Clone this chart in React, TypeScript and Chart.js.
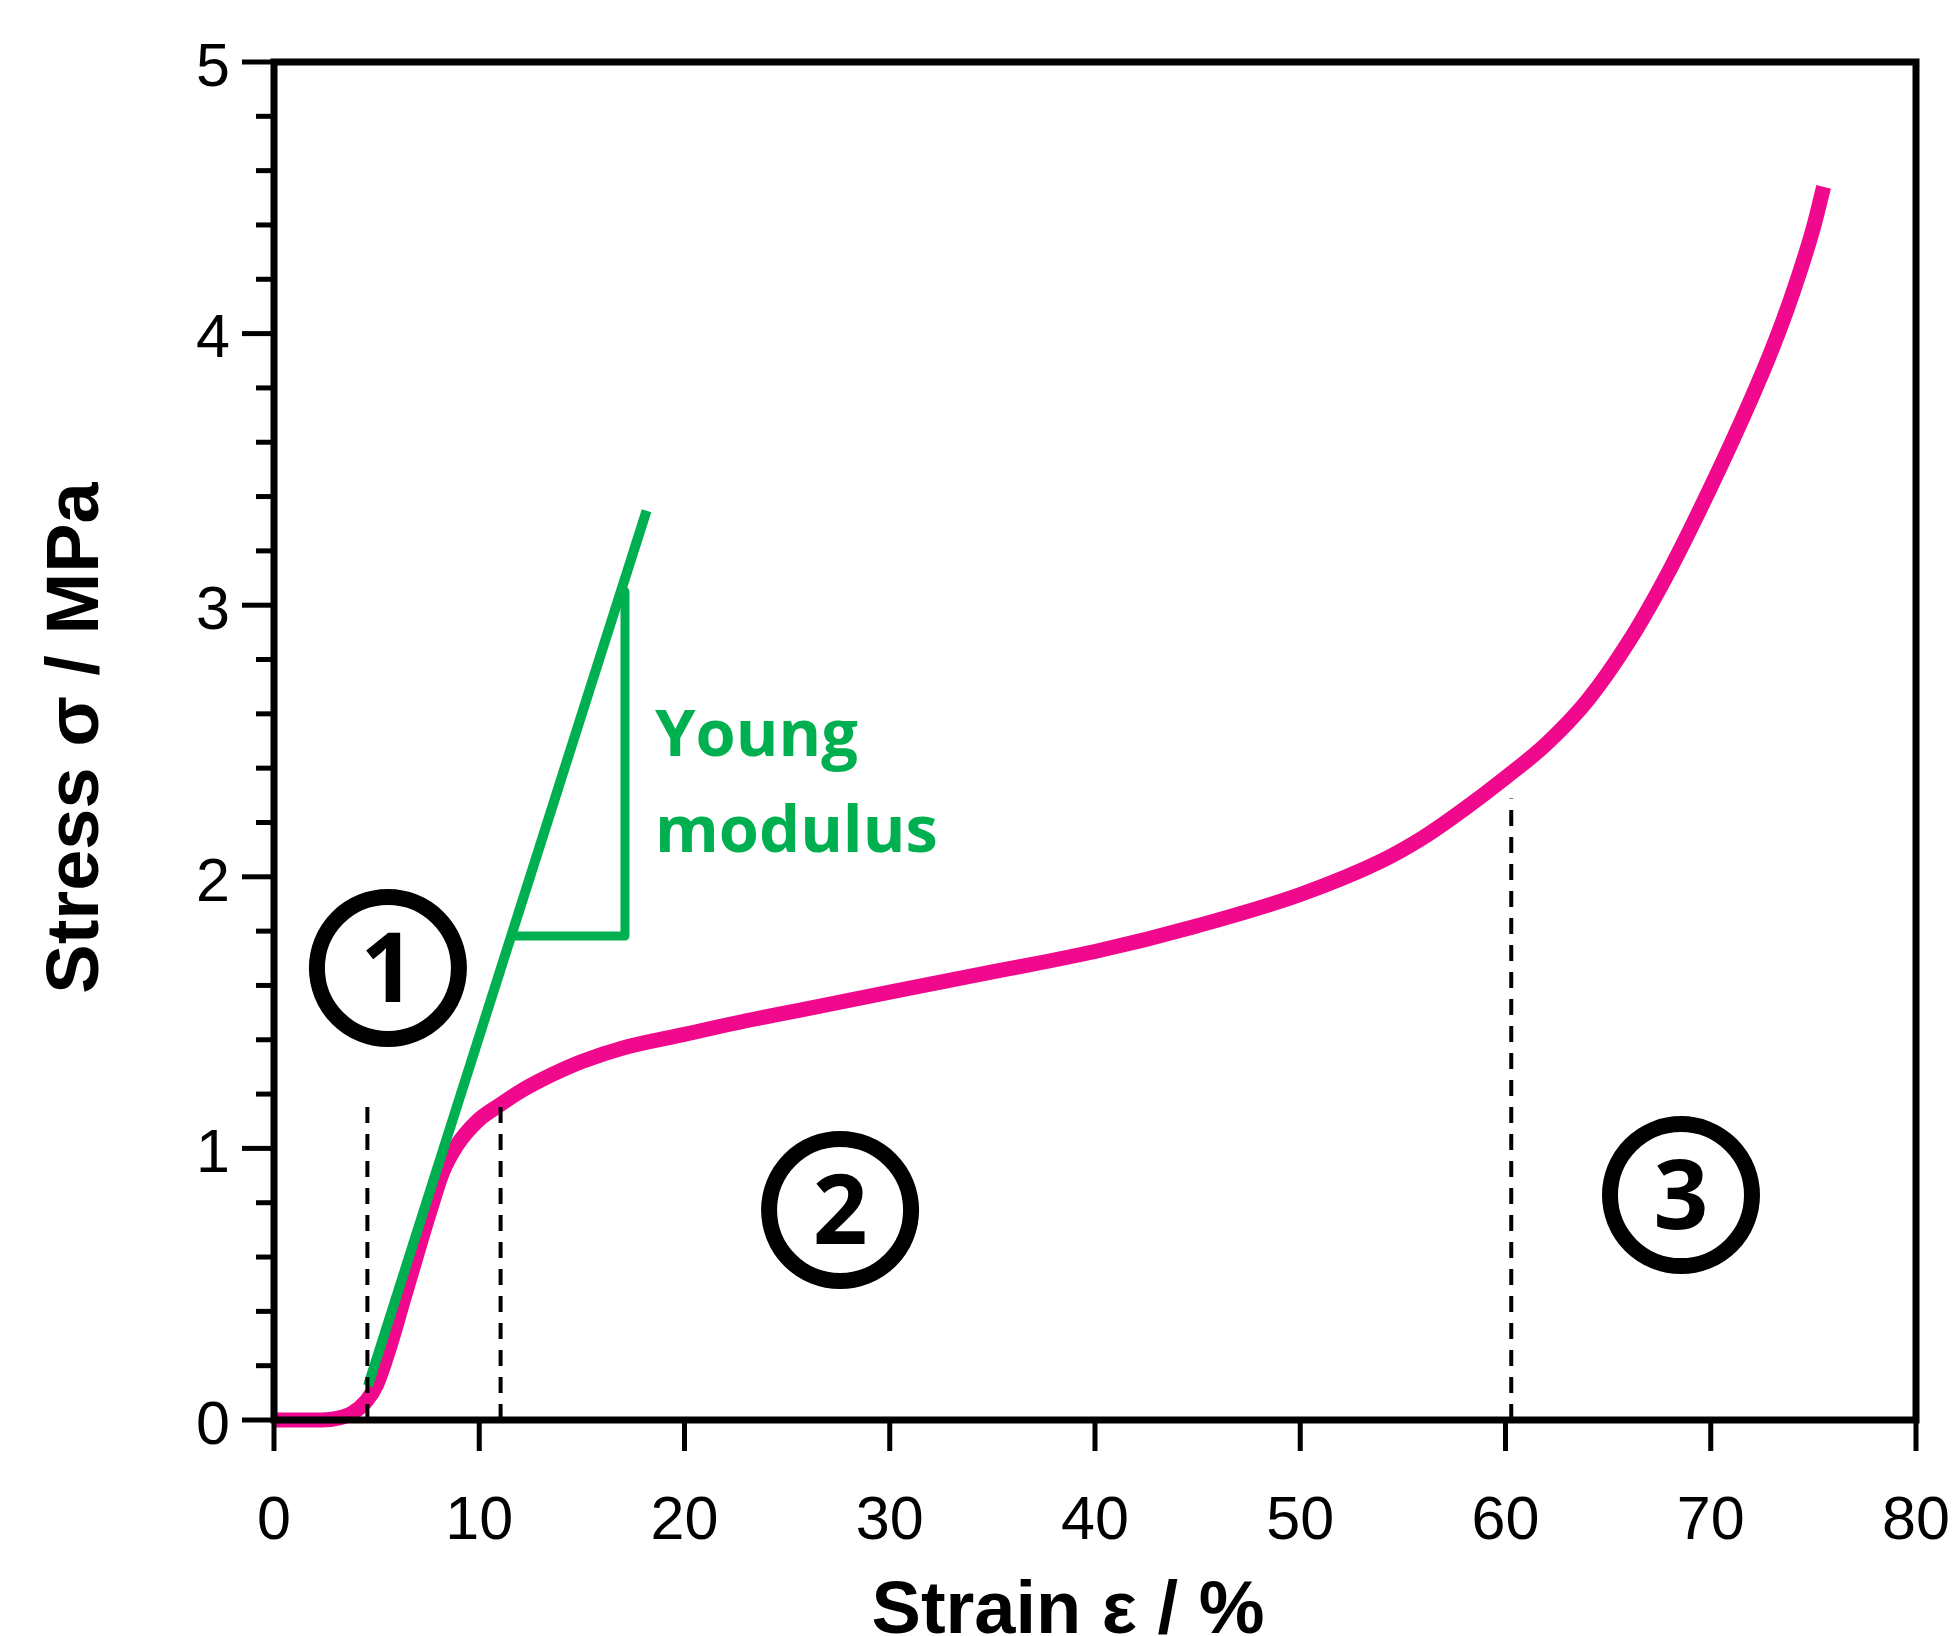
import React, { useEffect, useRef } from 'react';
import { Chart, registerables } from 'chart.js';

Chart.register(...registerables);

// ---- data ----
const strainPct = [0, 1, 2, 3, 3.8, 4.5, 5.0, 5.6, 6.3, 7.0, 7.6, 8.2, 8.9, 9.9, 11, 12, 13.5, 15, 17, 20, 23, 26, 30, 35, 40, 45, 50, 54, 56, 58, 60, 62, 64, 66, 68, 70, 72, 73, 74, 75, 75.5];
const stressMPa = [0, 0, 0, 0.005, 0.025, 0.07, 0.13, 0.26, 0.44, 0.62, 0.77, 0.91, 1.01, 1.1, 1.16, 1.21, 1.27, 1.32, 1.37, 1.42, 1.47, 1.515, 1.575, 1.65, 1.725, 1.82, 1.935, 2.06, 2.145, 2.25, 2.365, 2.49, 2.65, 2.865, 3.13, 3.435, 3.765, 3.945, 4.15, 4.39, 4.54];

const youngLineX = [4.58, 18.15];
const youngLineY = [0.126, 3.348];
const triangleX = [11.56, 17.1, 17.1];
const triangleY = [1.782, 1.782, 3.05];

const dashX = [4.55, 11.04, 60.28];
const dashTop = [1.176, 1.176, 2.288];

const regionLabels = ['1', '2', '3'];
const regionX = [5.55, 27.58, 68.55];
const regionY = [1.664, 0.773, 0.828];

const youngText = ['Young', 'modulus'];
const youngTextX = [18.56, 18.56];
const youngTextY = [2.445, 2.09];

const xTickValues = [0, 10, 20, 30, 40, 50, 60, 70, 80];
const yTickValues = [0, 1, 2, 3, 4, 5];
const yMinorTicks = [0.2, 0.4, 0.6, 0.8, 1.2, 1.4, 1.6, 1.8, 2.2, 2.4, 2.6, 2.8, 3.2, 3.4, 3.6, 3.8, 4.2, 4.4, 4.6, 4.8];

const xTitle = 'Strain ε / %';
const yTitle = 'Stress σ / MPa';

const PINK = '#F0098C';
const GREEN = '#00B050';

const framePlugin = {
  id: 'framePlugin',
  afterDatasetsDraw(chart: any) {
    const { ctx, chartArea } = chart;
    const xs = chart.scales.x;
    const ys = chart.scales.y;
    ctx.save();
    // frame
    ctx.strokeStyle = '#000';
    ctx.lineWidth = 7;
    ctx.strokeRect(chartArea.left, chartArea.top, chartArea.right - chartArea.left, chartArea.bottom - chartArea.top);
    // ticks
    ctx.lineWidth = 5;
    ctx.lineCap = 'butt';
    const seg = (x1: number, y1: number, x2: number, y2: number) => {
      ctx.beginPath();
      ctx.moveTo(x1, y1);
      ctx.lineTo(x2, y2);
      ctx.stroke();
    };
    yTickValues.forEach((v) => {
      const py = ys.getPixelForValue(v);
      seg(chartArea.left - 32, py, chartArea.left, py);
    });
    yMinorTicks.forEach((v) => {
      const py = ys.getPixelForValue(v);
      seg(chartArea.left - 18, py, chartArea.left, py);
    });
    xTickValues.forEach((v) => {
      const px = xs.getPixelForValue(v);
      seg(px, chartArea.bottom, px, chartArea.bottom + 31);
    });

    // region digits
    ctx.fillStyle = '#000';
    ctx.font = 'bold 96px "Open Sans"';
    ctx.textAlign = 'center';
    ctx.textBaseline = 'alphabetic';
    regionLabels.forEach((t, i) => {
      const px = xs.getPixelForValue(regionX[i]);
      const py = ys.getPixelForValue(regionY[i]);
      ctx.fillText(t, px, py + 34);
    });

    // Young modulus text
    ctx.fillStyle = GREEN;
    ctx.font = 'bold 65px "Open Sans"';
    ctx.textAlign = 'left';
    youngText.forEach((t, i) => {
      ctx.fillText(t, xs.getPixelForValue(youngTextX[i]), ys.getPixelForValue(youngTextY[i]));
    });

    // axis titles
    ctx.fillStyle = '#000';
    ctx.font = 'bold 74px "Liberation Sans", Arial, sans-serif';
    ctx.textAlign = 'center';
    ctx.fillText(xTitle, 1068, 1633);
    ctx.save();
    ctx.translate(98, 738);
    ctx.rotate(-Math.PI / 2);
    ctx.fillText(yTitle, 0, 0);
    ctx.restore();

    ctx.restore();
  },
};

const zeroPadding = (scale: any) => {
  scale.paddingLeft = 0;
  scale.paddingRight = 0;
  scale.paddingTop = 0;
  scale.paddingBottom = 0;
};

export default function App() {
  const canvasRef = useRef<HTMLCanvasElement | null>(null);

  useEffect(() => {
    const canvas = canvasRef.current;
    if (!canvas) return;

    const curve = strainPct.map((x, i) => ({ x, y: stressMPa[i] }));
    const young = youngLineX.map((x, i) => ({ x, y: youngLineY[i] }));
    const tri = triangleX.map((x, i) => ({ x, y: triangleY[i] }));
    const regions = regionX.map((x, i) => ({ x, y: regionY[i] }));

    const dashSets = dashX.map((x, i) => ({
      label: 'dash' + i,
      data: [
        { x, y: 0 },
        { x, y: dashTop[i] },
      ],
      borderColor: '#000',
      borderWidth: 4,
      borderDash: [16, 11],
      pointRadius: 0,
      fill: false,
      clip: false as any,
    }));

    const chart = new Chart(canvas, {
      type: 'line',
      data: {
        datasets: [
          {
            label: 'regions',
            data: regions,
            showLine: false,
            pointRadius: 71,
            pointBorderWidth: 16,
            pointBorderColor: '#000',
            pointBackgroundColor: 'rgba(0,0,0,0)',
            clip: false as any,
          },
          ...dashSets,
          {
            label: 'triangle',
            data: tri,
            borderColor: GREEN,
            borderWidth: 9,
            borderJoinStyle: 'round',
            borderCapStyle: 'round',
            pointRadius: 0,
            tension: 0,
            clip: false as any,
          },
          {
            label: 'young',
            data: young,
            borderColor: GREEN,
            borderWidth: 10,
            borderCapStyle: 'butt',
            pointRadius: 0,
            tension: 0,
            clip: false as any,
          },
          {
            label: 'stress',
            data: curve,
            borderColor: PINK,
            borderWidth: 15,
            pointRadius: 0,
            cubicInterpolationMode: 'monotone',
            clip: false as any,
          },
        ] as any,
      },
      options: {
        responsive: false,
        devicePixelRatio: 1,
        animation: false,
        events: [],
        layout: { autoPadding: false, padding: { top: 62, right: 36, left: 0, bottom: 0 } },
        plugins: {
          legend: { display: false },
          tooltip: { enabled: false },
        },
        scales: {
          x: {
            type: 'linear',
            min: 0,
            max: 80,
            grid: { display: false, drawTicks: false },
            border: { display: false },
            ticks: {
              stepSize: 10,
              color: '#000',
              padding: 66,
              maxRotation: 0,
              font: { family: '"Liberation Sans", Arial, sans-serif', size: 61 },
            },
            afterFit: (scale: any) => {
              scale.height = 216;
              zeroPadding(scale);
            },
          },
          y: {
            type: 'linear',
            min: 0,
            max: 5,
            grid: { display: false, drawTicks: false },
            border: { display: false },
            ticks: {
              stepSize: 1,
              color: '#000',
              padding: 44,
              labelOffset: 7,
              font: { family: '"Liberation Sans", Arial, sans-serif', size: 61 },
            },
            afterFit: (scale: any) => {
              scale.width = 274;
              zeroPadding(scale);
            },
          },
        },
      },
      plugins: [framePlugin],
    });

    return () => chart.destroy();
  }, []);

  return (
    <div style={{ position: 'absolute', left: 0, top: 0, width: 1952, height: 1636, background: '#fff' }}>
      <canvas ref={canvasRef} width={1952} height={1636} style={{ width: 1952, height: 1636, display: 'block' }} />
    </div>
  );
}
